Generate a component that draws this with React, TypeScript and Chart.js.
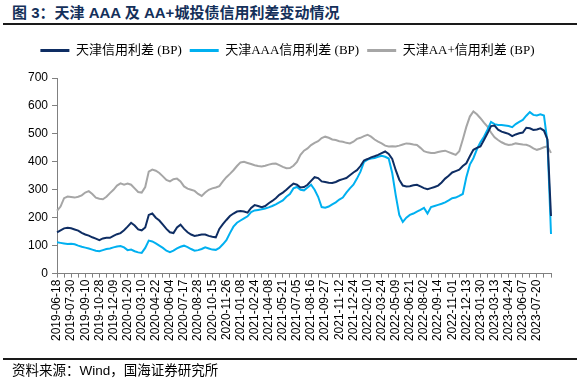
import React, { useEffect, useRef } from 'react';
import { Chart, registerables } from 'chart.js';
Chart.register(...registerables);

const tickDates = [
  '2019-06-18', '2019-07-30', '2019-09-10', '2019-10-28', '2019-12-09',
  '2020-01-20', '2020-03-10', '2020-04-22', '2020-06-04', '2020-07-17',
  '2020-08-28', '2020-10-15', '2020-11-26', '2021-01-08', '2021-02-24',
  '2021-04-08', '2021-05-21', '2021-07-05', '2021-08-16', '2021-09-27',
  '2021-11-12', '2021-12-24', '2022-02-10', '2022-03-24', '2022-05-09',
  '2022-06-21', '2022-08-02', '2022-09-14', '2022-11-01', '2022-12-13',
  '2023-01-30', '2023-03-13', '2023-04-24', '2023-06-07', '2023-07-20',
];
const pointsPerTick = 4;

const tianjin = [
  148, 155, 162, 164, 162, 158, 154, 146, 140, 136,
  130, 125, 120, 126, 128, 128, 135, 141, 145, 155,
  168, 182, 172, 158, 155, 165, 210, 215, 200, 190,
  175, 160, 148, 145, 165, 175, 160, 148, 140, 135,
  137, 140, 140, 135, 132, 130, 160, 177, 192, 206,
  215, 222, 224, 222, 218, 235, 245, 242, 238, 242,
  252, 260, 270, 282, 290, 300, 312, 322, 318, 308,
  310, 318, 332, 345, 342, 330, 328, 325, 324, 328,
  334, 338, 342, 352, 362, 370, 385, 405, 410, 416,
  420, 425, 431, 437, 428, 410, 370, 336, 315, 312,
  313, 316, 318, 312, 306, 302, 306, 310, 315, 326,
  340, 350, 362, 367, 372, 385, 395, 420, 443, 450,
  455, 478, 502, 528, 530, 515, 508, 504, 500, 492,
  498, 502, 505, 522, 520, 514, 516, 520, 512, 480,
  206,
];

const tianjinAAA = [
  112, 110, 108, 106, 107, 105, 100, 96, 93, 90,
  86, 82, 80, 84, 88, 90, 94, 97, 99, 94,
  84, 86, 80, 76, 74, 92, 118, 115, 108, 100,
  92, 82, 77, 82, 90, 96, 100, 95, 88, 82,
  84, 88, 94, 90, 86, 85, 92, 105, 120, 145,
  168, 182, 190, 198, 205, 220, 226, 228, 230, 233,
  237, 242, 248, 255, 262, 275, 285, 305, 310, 300,
  298, 308, 318, 300, 275, 238, 236, 240, 248, 255,
  265, 272, 290, 305, 318, 340, 365, 400, 408, 412,
  414, 418, 422, 418, 412, 360, 280, 210, 185, 200,
  210, 215, 222, 228, 235, 215, 238, 242, 246, 250,
  255, 262, 270, 272, 278, 285, 345, 390, 413, 445,
  470, 490, 515, 543, 535, 532, 532, 530, 528, 524,
  535, 543, 550, 565, 578, 568, 566, 570, 566, 470,
  142,
];

const tianjinAAplus = [
  225, 240, 270, 276, 274, 272, 275, 280, 290, 295,
  285, 272, 268, 266, 275, 288, 300, 315, 323, 318,
  322, 318, 305, 292, 290, 310, 365, 372, 368, 360,
  348, 335, 330, 338, 340, 330, 312, 304, 300, 296,
  285, 278, 290, 300, 305, 308, 313, 330, 345, 357,
  370, 385, 398, 400, 396, 392, 388, 385, 383, 386,
  390, 393, 394, 388, 382, 377, 378, 386, 400, 425,
  440, 448, 460, 468, 474, 485, 490, 486, 480, 478,
  474, 472, 468, 466, 472, 482, 486, 492, 497, 490,
  480, 472, 466, 458, 455, 456, 455, 458, 462, 466,
  465, 462, 460, 450, 438, 434, 432, 432, 435, 438,
  440, 435, 430, 425, 438, 480, 525, 562, 580, 570,
  556, 540, 526, 505, 488, 478, 470, 464, 460, 462,
  466, 464, 462, 461, 456, 448, 443, 447, 452, 455,
  432,
];

const seriesNames = ['天津信用利差 (BP)', '天津AAA信用利差 (BP)', '天津AA+信用利差 (BP)'];
const seriesColors = ['#0E2D63', '#00B0F0', '#A6A6A6'];

const categories = tianjin.map((_, i) =>
  i % pointsPerTick === 0 ? tickDates[i / pointsPerTick] ?? '' : ''
);

const FONT_SANS = '"Liberation Sans", Arial, "Noto Sans CJK SC", sans-serif';
const FONT_LEGEND = '"Liberation Serif", "Noto Sans CJK SC", serif';

const legendGap = {
  id: 'legendGap',
  beforeInit(chart: any) {
    const legend = chart.legend;
    if (!legend) return;
    const fit = legend.fit;
    legend.fit = function () {
      fit.call(this);
      this.height += 11;
    };
  },
};

export default function App() {
  const ref = useRef<HTMLCanvasElement | null>(null);

  useEffect(() => {
    if (!ref.current) return;
    const chart = new Chart(ref.current, {
      type: 'line',
      data: {
        labels: categories,
        datasets: [tianjin, tianjinAAA, tianjinAAplus].map((d, k) => ({
          label: seriesNames[k],
          data: d,
          borderColor: seriesColors[k],
          backgroundColor: seriesColors[k],
          borderWidth: 2,
          pointRadius: 0,
          tension: 0,
        })),
      },
      options: {
        responsive: false,
        animation: false,
        layout: { padding: { left: 24, right: 29, top: 36, bottom: 37 } },
        plugins: {
          tooltip: { enabled: false },
          legend: {
            position: 'top',
            labels: {
              boxWidth: 29,
              boxHeight: 3,
              padding: 8,
              color: '#000',
              font: { family: FONT_LEGEND, size: 13 },
              generateLabels: (c: any) =>
                Chart.defaults.plugins.legend.labels
                  .generateLabels(c)
                  .map((l: any) => ({ ...l, lineWidth: 0 })),
            },
          },
        },
        scales: {
          x: {
            type: 'category',
            offset: false,
            grid: {
              display: true,
              drawOnChartArea: false,
              drawTicks: true,
              tickLength: 4,
              color: '#808080',
            },
            border: { display: true, color: '#808080', width: 1 },
            ticks: {
              autoSkip: false,
              maxRotation: 90,
              minRotation: 90,
              padding: 2,
              color: '#000',
              font: { family: FONT_SANS, size: 12 },
              callback: (_v: any, i: number) =>
                i % pointsPerTick === 0 ? categories[i] : i % 2 === 0 ? '' : null,
            },
          },
          y: {
            min: 0,
            max: 700,
            grid: {
              display: true,
              drawOnChartArea: false,
              drawTicks: true,
              tickLength: 5,
              color: '#808080',
            },
            border: { display: true, color: '#808080', width: 1 },
            ticks: {
              stepSize: 100,
              padding: 4,
              color: '#000',
              font: { family: FONT_SANS, size: 12 },
            },
          },
        },
      },
      plugins: [legendGap],
    } as any);
    return () => chart.destroy();
  }, []);

  return (
    <div style={{ position: 'fixed', left: 0, top: 0, width: 580, height: 380, background: '#fff', overflow: 'hidden' }}>
      <div
        style={{
          position: 'absolute', left: 12, top: 3, whiteSpace: 'nowrap',
          font: `bold 15px ${FONT_SANS}`, lineHeight: '19px', color: '#14305A',
        }}
      >
        图 3：天津 AAA 及 AA+城投债信用利差变动情况
      </div>
      <div style={{ position: 'absolute', left: 3, top: 23, width: 574, height: 2, background: '#1a1a1a' }} />
      <canvas ref={ref} width={580} height={380} style={{ position: 'absolute', left: 0, top: 0 }} />
      <div style={{ position: 'absolute', left: 3, top: 358, width: 574, height: 1.5, background: '#1a1a1a' }} />
      <div
        style={{
          position: 'absolute', left: 12, top: 363, whiteSpace: 'nowrap',
          font: `13.5px ${FONT_SANS}`, lineHeight: '16px', color: '#000',
        }}
      >
        资料来源：Wind，国海证券研究所
      </div>
    </div>
  );
}
